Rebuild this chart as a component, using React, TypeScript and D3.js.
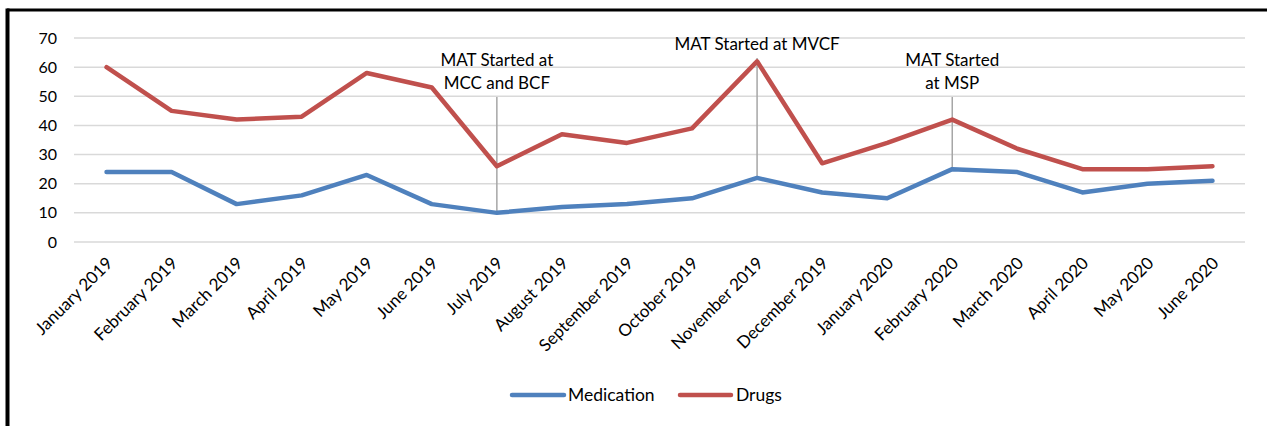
import React from 'react';
import * as d3 from 'd3';

const months = [
  'January 2019', 'February 2019', 'March 2019', 'April 2019', 'May 2019', 'June 2019',
  'July 2019', 'August 2019', 'September 2019', 'October 2019', 'November 2019', 'December 2019',
  'January 2020', 'February 2020', 'March 2020', 'April 2020', 'May 2020', 'June 2020',
];
const medication = [24, 24, 13, 16, 23, 13, 10, 12, 13, 15, 22, 17, 15, 25, 24, 17, 20, 21];
const drugs = [60, 45, 42, 43, 58, 53, 26, 37, 34, 39, 62, 27, 34, 42, 32, 25, 25, 26];
const yTicks = [0, 10, 20, 30, 40, 50, 60, 70];

const annotations = [
  { month: 'July 2019', lines: ['MAT Started at', 'MCC and BCF'], top: 97 },
  { month: 'November 2019', lines: ['MAT Started at MVCF'], top: 58 },
  { month: 'February 2020', lines: ['MAT Started', 'at MSP'], top: 97 },
];

const W = 1267;
const H = 426;
const font = 'Lato, "Open Sans", sans-serif';
const BLUE = '#4f81bd';
const RED = '#c0504d';

export default function App() {
  const x = d3.scaleBand().domain(months).range([74, 1245]);
  const y = d3.scaleLinear().domain([0, 70]).range([242, 38]);
  const cx = (m: string) => (x(m) ?? 0) + x.bandwidth() / 2;

  const line = d3.line<number>().x((_, i) => cx(months[i])).y((d) => y(d));

  return (
    <svg width={W} height={H} style={{ position: 'absolute', left: 0, top: 0 }} fontFamily={font}>
      <rect width={W} height={H} fill="#fff" />
      <line x1={7} y1={10} x2={W} y2={10} stroke="#000" strokeWidth={3} />
      <line x1={7.5} y1={8.5} x2={7.5} y2={H} stroke="#000" strokeWidth={4} />

      {yTicks.map((t) => (
        <g key={t}>
          <line x1={74} x2={1245} y1={y(t)} y2={y(t)} stroke="#d9d9d9" strokeWidth={1.5} />
          <text x={57} y={y(t)} dy="0.35em" textAnchor="end" fontSize={16} fill="#000">{t}</text>
        </g>
      ))}

      {months.map((m) => (
        <text key={m} transform={`translate(${cx(m) + 3},${260}) rotate(-45)`} textAnchor="end"
          dy="0.35em" fontSize={17} fill="#000">{m}</text>
      ))}

      {annotations.map((a) => {
        const i = months.indexOf(a.month);
        const px = cx(a.month);
        const lh = 23;
        const firstY = a.top - 14 - (a.lines.length - 1) * lh;
        return (
          <g key={a.month}>
            <line x1={px} x2={px} y1={a.top} y2={y(medication[i])} stroke="#a6a6a6" strokeWidth={1.5} />
            {a.lines.map((l, j) => (
              <text key={j} x={px} y={firstY + j * lh} dy="0.35em" textAnchor="middle" fontSize={17} fill="#000">{l}</text>
            ))}
          </g>
        );
      })}

      <path d={line(drugs) ?? ''} fill="none" stroke={RED} strokeWidth={4.5} strokeLinejoin="round" strokeLinecap="round" />
      <path d={line(medication) ?? ''} fill="none" stroke={BLUE} strokeWidth={4.5} strokeLinejoin="round" strokeLinecap="round" />

      <g>
        <line x1={512} x2={564} y1={395} y2={395} stroke={BLUE} strokeWidth={4.5} strokeLinecap="round" />
        <text x={568} y={395} dy="0.35em" fontSize={17.5} fill="#000">Medication</text>
        <line x1={680} x2={731} y1={395} y2={395} stroke={RED} strokeWidth={4.5} strokeLinecap="round" />
        <text x={736} y={395} dy="0.35em" fontSize={17.5} fill="#000">Drugs</text>
      </g>
    </svg>
  );
}
